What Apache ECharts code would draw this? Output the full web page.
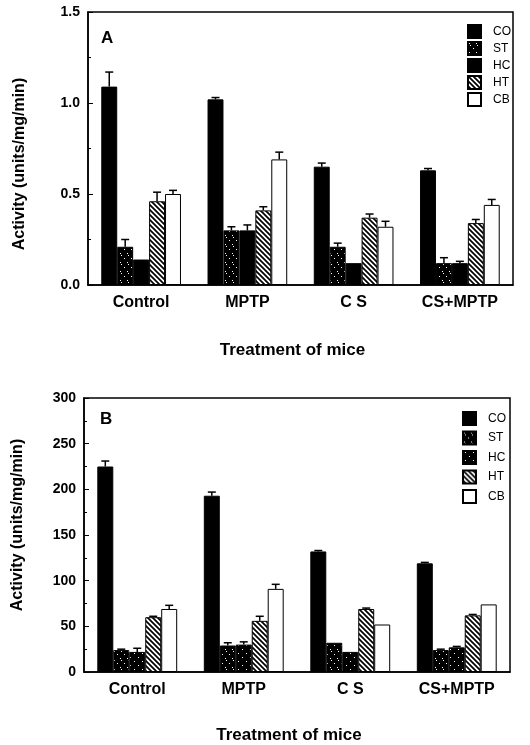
<!DOCTYPE html>
<html>
<head>
<meta charset="utf-8">
<script src="https://cdn.jsdelivr.net/npm/echarts@6/dist/echarts.min.js"></script>
<style>
  html, body { margin: 0; padding: 0; background: #fff; }
  #main { width: 530px; height: 745px; }
</style>
</head>
<body>
<div id="main"></div>
<script>
var treatments = ['Control', 'MPTP', 'C S', 'CS+MPTP'];
var regions = ['CO', 'ST', 'HC', 'HT', 'CB'];

// panel A, units/mg/min
var aCO = [1.09, 1.02, 0.65, 0.63];
var aST = [0.21, 0.30, 0.21, 0.12];
var aHC = [0.14, 0.30, 0.12, 0.12];
var aHT = [0.46, 0.41, 0.37, 0.34];
var aCB = [0.50, 0.69, 0.32, 0.44];
var aErrCO = [0.08, 0.01, 0.02, 0.01];
var aErrST = [0.04, 0.02, 0.02, 0.03];
var aErrHC = [0, 0.03, 0, 0.01];
var aErrHT = [0.05, 0.02, 0.02, 0.02];
var aErrCB = [0.02, 0.04, 0.03, 0.03];

// panel B, units/mg/min
var bCO = [225, 193, 132, 119];
var bST = [24, 29, 32, 24];
var bHC = [22, 30, 22, 27];
var bHT = [60, 56, 69, 62];
var bCB = [69, 91, 52, 74];
var bErrCO = [6, 4, 1, 1];
var bErrST = [1, 3, 0, 1];
var bErrHC = [4, 3, 0, 1];
var bErrHT = [1, 5, 1, 1];
var bErrCB = [4, 5, 0, 0];

var FONT = 'Liberation Sans';

function makeTile(w, h, draw) {
    var c = document.createElement('canvas');
    c.width = w;
    c.height = h;
    draw(c.getContext('2d'));
    return { image: c, repeat: 'repeat' };
}

var hatch = makeTile(5, 5, function (ctx) {
    ctx.fillStyle = '#fff';
    ctx.fillRect(0, 0, 5, 5);
    ctx.strokeStyle = '#000';
    ctx.lineWidth = 1.7;
    ctx.beginPath();
    ctx.moveTo(-1, -1); ctx.lineTo(6, 6);
    ctx.moveTo(-1, 4); ctx.lineTo(1, 6);
    ctx.moveTo(4, -1); ctx.lineTo(6, 1);
    ctx.stroke();
});
var speckle = makeTile(7, 9, function (ctx) {
    ctx.fillStyle = '#000';
    ctx.fillRect(0, 0, 7, 9);
    ctx.fillStyle = '#fff';
    ctx.fillRect(1, 1, 1, 1);
    ctx.fillRect(2, 3, 1, 1);
    ctx.fillRect(5, 6, 1, 1);
});
var dots = makeTile(8, 8, function (ctx) {
    ctx.fillStyle = '#000';
    ctx.fillRect(0, 0, 8, 8);
    ctx.fillStyle = '#fff';
    ctx.fillRect(2, 1, 1, 1);
    ctx.fillRect(6, 5, 1, 1);
});

var fillsA = ['#000', speckle, '#000', hatch, '#fff'];
var fillsB = ['#000', speckle, dots, hatch, '#fff'];
var valsA = [aCO, aST, aHC, aHT, aCB];
var errsA = [aErrCO, aErrST, aErrHC, aErrHT, aErrCB];
var valsB = [bCO, bST, bHC, bHT, bCB];
var errsB = [bErrCO, bErrST, bErrHC, bErrHT, bErrCB];

var GAP = 0.25;

function errorData(vals, errs) {
    var out = [];
    for (var k = 0; k < vals.length; k++) {
        for (var i = 0; i < vals[k].length; i++) {
            if (errs[k][i] > 0) {
                out.push([i, vals[k][i], errs[k][i], k]);
            }
        }
    }
    return out;
}

function renderError(params, api) {
    var cat = api.value(0);
    var v = api.value(1);
    var e = api.value(2);
    var k = api.value(3);
    var band = api.size([1, 0])[0];
    var bw = band * (1 - GAP) / regions.length;
    var base = api.coord([cat, v]);
    var top = api.coord([cat, v + e]);
    var x = base[0] + (k - (regions.length - 1) / 2) * bw;
    var style = { stroke: '#000', lineWidth: 1.5 };
    return {
        type: 'group',
        children: [
            { type: 'line', shape: { x1: x, y1: base[1], x2: x, y2: top[1] }, style: style },
            { type: 'line', shape: { x1: x - 4, y1: top[1], x2: x + 4, y2: top[1] }, style: style }
        ]
    };
}

var series = [];
regions.forEach(function (r, k) {
    series.push({
        name: 'A-' + r,
        type: 'bar',
        xAxisIndex: 0,
        yAxisIndex: 0,
        data: valsA[k],
        barGap: '0%',
        barCategoryGap: '25%',
        itemStyle: { color: fillsA[k], borderColor: '#000', borderWidth: 1 }
    });
});
regions.forEach(function (r, k) {
    series.push({
        name: 'B-' + r,
        type: 'bar',
        xAxisIndex: 1,
        yAxisIndex: 1,
        data: valsB[k],
        barGap: '0%',
        barCategoryGap: '25%',
        itemStyle: { color: fillsB[k], borderColor: '#000', borderWidth: 1 }
    });
});
series.push({
    type: 'custom',
    xAxisIndex: 0,
    yAxisIndex: 0,
    z: 5,
    renderItem: renderError,
    encode: { x: 0, y: 1 },
    data: errorData(valsA, errsA)
});
series.push({
    type: 'custom',
    xAxisIndex: 1,
    yAxisIndex: 1,
    z: 5,
    renderItem: renderError,
    encode: { x: 0, y: 1 },
    data: errorData(valsB, errsB)
});

function xAxisFor(grid) {
    return {
        type: 'category',
        gridIndex: grid,
        data: treatments,
        name: 'Treatment of mice',
        nameLocation: 'middle',
        nameGap: grid === 0 ? 57 : 55,
        nameTextStyle: { fontFamily: FONT, fontWeight: 'bold', fontSize: 17, color: '#000', padding: [0, 16, 0, 0] },
        axisLine: { lineStyle: { color: '#000', width: 1.5 } },
        axisTick: { inside: true, length: 4, lineStyle: { color: '#000' } },
        axisLabel: { margin: 10, fontFamily: FONT, fontWeight: 'bold', fontSize: 16, color: '#000' }
    };
}

function yAxisFor(grid, max, interval, fmt) {
    return {
        type: 'value',
        gridIndex: grid,
        min: 0,
        max: max,
        interval: interval,
        axisLine: { show: true, lineStyle: { color: '#000', width: 1.5 } },
        axisTick: { show: true, inside: true, length: 5, lineStyle: { color: '#000' } },
        minorTick: { show: true, splitNumber: 2, length: 3, lineStyle: { color: '#000' } },
        splitLine: { show: false },
        axisLabel: { margin: 8, fontFamily: FONT, fontWeight: 'bold', fontSize: 14, color: '#000', formatter: fmt }
    };
}

function legendFor(names, left, top, gap) {
    return {
        data: names,
        orient: 'vertical',
        left: left,
        top: top,
        icon: 'rect',
        itemWidth: 13,
        itemHeight: 13,
        itemGap: gap,
        selectedMode: false,
        formatter: function (n) { return n.slice(2); },
        textStyle: { fontFamily: FONT, fontSize: 12, color: '#000', padding: [0, 0, 0, 7] }
    };
}

var chart = echarts.init(document.getElementById('main'));
chart.setOption({
    animation: false,
    backgroundColor: '#fff',
    grid: [
        { left: 88, right: 17, top: 12, height: 273, show: true, borderColor: '#000', borderWidth: 1.5, backgroundColor: 'transparent' },
        { left: 84, right: 20, top: 398, height: 274, show: true, borderColor: '#000', borderWidth: 1.5, backgroundColor: 'transparent' }
    ],
    xAxis: [xAxisFor(0), xAxisFor(1)],
    yAxis: [
        yAxisFor(0, 1.5, 0.5, function (v) { return v.toFixed(1); }),
        yAxisFor(1, 300, 50, function (v) { return String(v); })
    ],
    legend: [
        legendFor(regions.map(function (r) { return 'A-' + r; }), 462, 19, 2),
        legendFor(regions.map(function (r) { return 'B-' + r; }), 457, 406, 4.5)
    ],
    graphic: [
        { type: 'text', left: 101, top: 30, style: { text: 'A', font: 'bold 17px "Liberation Sans"', fill: '#000' } },
        { type: 'text', left: 100, top: 411, style: { text: 'B', font: 'bold 17px "Liberation Sans"', fill: '#000' } },
        { type: 'text', x: 20, y: 164, rotation: Math.PI / 2, style: { text: 'Activity (units/mg/min)', font: 'bold 16px "Liberation Sans"', fill: '#000', align: 'center', verticalAlign: 'middle' } },
        { type: 'text', x: 18, y: 525, rotation: Math.PI / 2, style: { text: 'Activity (units/mg/min)', font: 'bold 16px "Liberation Sans"', fill: '#000', align: 'center', verticalAlign: 'middle' } }
    ],
    series: series
});
</script>
</body>
</html>
